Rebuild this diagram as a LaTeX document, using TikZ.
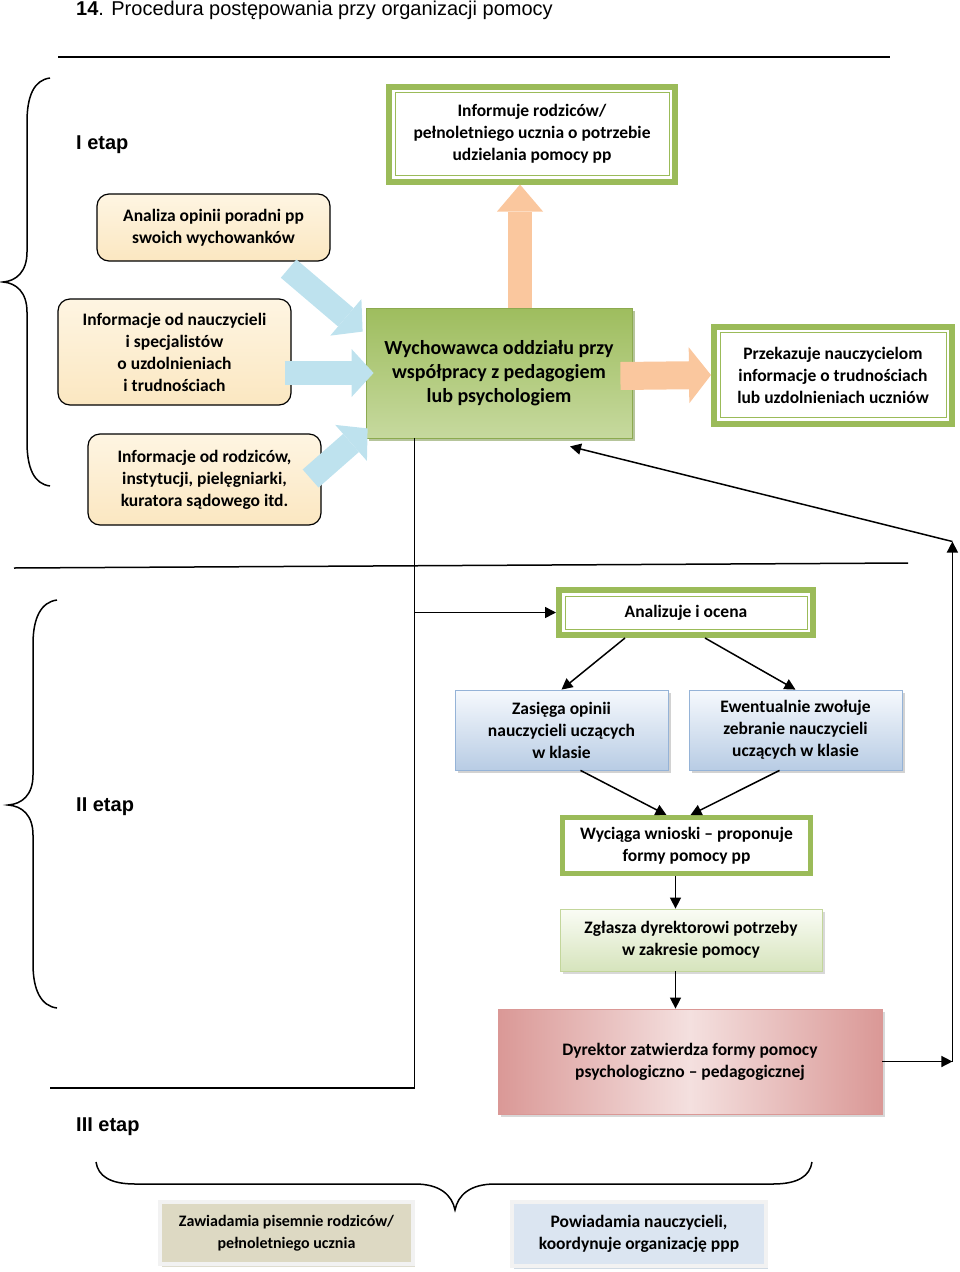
\documentclass[tikz,border=0pt]{standalone}
\usepackage{fontspec}
\setmainfont{Carlito}
\newfontfamily\arialfont{Liberation Sans}
\usetikzlibrary{arrows.meta,calc,shadows}

\definecolor{framegreen}{RGB}{155,187,89}
\definecolor{creamtop}{RGB}{254,245,226}
\definecolor{creambot}{RGB}{251,231,193}
\definecolor{wychtop}{RGB}{158,189,94}
\definecolor{wychbot}{RGB}{198,217,158}
\definecolor{wychline}{RGB}{140,170,80}
\definecolor{wychshadow}{RGB}{110,140,55}
\definecolor{bluetop}{RGB}{246,249,253}
\definecolor{bluebot}{RGB}{184,204,228}
\definecolor{blueline}{RGB}{149,179,215}
\definecolor{lgreentop}{RGB}{250,252,245}
\definecolor{lgreenbot}{RGB}{214,228,188}
\definecolor{lgreenline}{RGB}{195,214,155}
\definecolor{pinkdark}{RGB}{218,152,150}
\definecolor{pinklight}{RGB}{244,224,223}
\definecolor{tanfill}{RGB}{221,217,195}
\definecolor{tanshadow}{RGB}{190,186,160}
\definecolor{skyfill}{RGB}{219,229,241}
\definecolor{skyshadow}{RGB}{160,180,200}
\definecolor{arrowblue}{RGB}{190,226,238}
\definecolor{arroworange}{RGB}{250,199,158}

\begin{document}
\begin{tikzpicture}[x=1pt,y=-1pt,
    box/.style={inner sep=0pt, align=center, font=\bfseries\fontsize{17.5}{22}\selectfont},
    cream/.style={box, draw=black, line width=1.2pt, rounded corners=12pt,
        top color=creamtop, bottom color=creambot},
    dframe/.style={box, draw=framegreen, line width=6pt, fill=white},
    gframe/.style={box, draw=framegreen, line width=5pt, fill=white},
    wychbox/.style={box, draw=wychline, line width=0.8pt, top color=wychtop, bottom color=wychbot,
        font=\bfseries\fontsize{20}{24}\selectfont,
        drop shadow={shadow xshift=3pt, shadow yshift=-3pt, fill=wychshadow}},
    bluebox/.style={box, draw=blueline, line width=0.8pt, top color=bluetop, bottom color=bluebot,
        drop shadow={shadow xshift=3pt, shadow yshift=-3pt, fill=black!35}},
    lgreenbox/.style={box, draw=lgreenline, line width=0.8pt, top color=lgreentop, bottom color=lgreenbot,
        drop shadow={shadow xshift=3pt, shadow yshift=-3pt, fill=black!30}},
    pinkbox/.style={box, draw=pinkdark, line width=0.8pt, left color=pinkdark, right color=pinkdark,
        middle color=pinklight,
        drop shadow={shadow xshift=3pt, shadow yshift=-3pt, fill=black!30}},
    tanbox/.style={box, draw=black!5, line width=4pt, fill=tanfill, font=\bfseries\fontsize{16}{21.5}\selectfont,
        drop shadow={shadow xshift=2pt, shadow yshift=-3pt, fill=tanshadow}},
    skybox/.style={box, draw=black!5, line width=4pt, fill=skyfill,
        drop shadow={shadow xshift=2pt, shadow yshift=-3pt, fill=skyshadow}},
    etap/.style={anchor=west, inner sep=0pt, font=\arialfont\bfseries\fontsize{20}{24}\selectfont},
    plain/.style={line width=1.5pt},
    link/.style={line width=1.5pt, -{Triangle[length=11pt,width=11pt]}},
    fatblue/.style={line width=24pt, draw=arrowblue, -{Triangle[length=22pt,width=48pt,line width=0pt]}},
    fatorange/.style={line width=28pt, draw=arroworange, -{Triangle[length=22pt,width=56pt,line width=0pt]}}]

    \useasboundingbox (0,0) rectangle (960,1272);

    % title and stages
    \node[anchor=base west, inner sep=0pt, font=\arialfont\fontsize{20}{24}\selectfont] (title) at (76,15)
        {\textbf{14}. Procedura postępowania przy organizacji pomocy};
    \node[etap] (etap1) at (76,145) {I etap};
    \node[etap] (etap2) at (76,807) {II etap};
    \node[etap] (etap3) at (76,1127) {III etap};

    \draw[plain] (58,57) -- (890,57);
    \draw[plain] (14,568) -- (908,563);

    % braces
    \draw[plain] (50,78) .. controls (34,80) and (27,96) .. (27,122) -- (27,252)
        .. controls (27,272) and (16,281) .. (3,282) .. controls (16,283) and (27,292) .. (27,312)
        -- (27,442) .. controls (27,468) and (34,484) .. (50,486);
    \draw[plain] (57,600) .. controls (41,602) and (33,618) .. (33,644) -- (33,775)
        .. controls (33,795) and (22,804) .. (8,805) .. controls (22,806) and (33,815) .. (33,835)
        -- (33,964) .. controls (33,990) and (41,1006) .. (57,1008);
    \draw[plain] (96,1162) .. controls (98,1176) and (110,1184) .. (135,1184) -- (415,1184)
        .. controls (440,1184) and (452,1195) .. (455,1210) .. controls (458,1195) and (470,1184) .. (495,1184)
        -- (773,1184) .. controls (798,1184) and (810,1176) .. (812,1162);

    % stage I
    \node[dframe, minimum width=286pt, minimum height=95pt] (inform) at (532,134)
        {Informuje rodziców/\\pełnoletniego ucznia o potrzebie\\udzielania pomocy pp};
    \node[cream, minimum width=233pt, minimum height=67pt] (analiza) at (213.5,227.5)
        {Analiza opinii poradni pp\\swoich wychowanków};
    \node[cream, minimum width=233pt, minimum height=106pt] (infonau) at (174.5,352)
        {Informacje od nauczycieli\\i specjalistów\\o uzdolnieniach\\i trudnościach};
    \node[cream, minimum width=233pt, minimum height=91pt] (inforodz) at (204.5,479.5)
        {Informacje od rodziców,\\instytucji, pielęgniarki,\\kuratora sądowego itd.};
    \node[wychbox, minimum width=266pt, minimum height=130pt] (wych) at (499,373)
        {Wychowawca oddziału przy\\współpracy z pedagogiem\\lub psychologiem};
    \node[dframe, minimum width=238pt, minimum height=97pt] (przek) at (833,375)
        {Przekazuje nauczycielom\\informacje o trudnościach\\lub uzdolnieniach uczniów};

    % stage II
    \node[dframe, minimum width=254pt, minimum height=45pt] (anal) at (686,612.5) {Analizuje i ocena};
    \node[bluebox, minimum width=213pt, minimum height=80pt] (zasiega) at (561.5,730)
        {Zasięga opinii\\nauczycieli uczących\\w klasie};
    \node[bluebox, minimum width=213pt, minimum height=80pt] (ewent) at (795.5,730)
        {Ewentualnie zwołuje\\zebranie nauczycieli\\uczących w klasie};
    \node[gframe, minimum width=248pt, minimum height=56pt] (wyciaga) at (686.5,845.5)
        {Wyciąga wnioski -- proponuje\\formy pomocy pp};
    \node[lgreenbox, minimum width=262pt, minimum height=62pt] (zglasza) at (691,940)
        {Zgłasza dyrektorowi potrzeby\\w zakresie pomocy};
    \node[pinkbox, minimum width=384pt, minimum height=105pt] (dyrektor) at (690,1061.5)
        {Dyrektor zatwierdza formy pomocy\\psychologiczno -- pedagogicznej};

    % stage III
    \node[tanbox, minimum width=253pt, minimum height=62pt] (zawiad) at (286.5,1233)
        {Zawiadamia pisemnie rodziców/\\pełnoletniego ucznia};
    \node[skybox, minimum width=254pt, minimum height=64pt] (powiad) at (639,1234)
        {Powiadamia nauczycieli,\\koordynuje organizację ppp};

    % inner lines of the framed boxes
    \foreach \n in {inform,przek,anal}
        \draw[framegreen, line width=1pt] ($(\n.south west)+(9,-9)$) rectangle ($(\n.north east)+(-9,9)$);

    % block arrows
    \draw[fatblue] ($(analiza.south east)+(-42,7)$) -- ($(wych.north west)+(-3,24)$);
    \draw[fatblue] ($(infonau.east)+(-7,21)$) -- ($(wych.west)+(8,0)$);
    \draw[fatblue] ($(inforodz.east)+(-11,-1)$) -- ($(wych.south west)+(2,-10)$);
    \draw[fatorange, line width=24pt, -{Triangle[length=27pt,width=46pt,line width=0pt]}]
        ($(wych.north)+(21,0)$) -- ($(inform.south)+(-12,0)$);
    \draw[fatorange] ($(wych.east)+(-12,3)$) -- (przek.west);

    % connectors
    \coordinate (wl) at ($(wych.south west)+(49,0)$);
    \coordinate (sepc) at (50,1088);
    \draw[plain] (wl) |- (sepc);
    \draw[link] (wl |- anal.west) -- (anal.west);
    \draw[link] ($(anal.south)+(-61,0)$) -- (zasiega.north);
    \draw[link] ($(anal.south)+(19,0)$) -- (ewent.north);
    \draw[link] ($(zasiega.south)+(19,0)$) -- ($(wyciaga.north)+(-20,0)$);
    \draw[link] ($(ewent.south)+(-16,0)$) -- ($(wyciaga.north)+(4,0)$);
    \coordinate (w1) at ($(wyciaga.south)+(-11,0)$);
    \draw[link] (w1) -- (w1 |- zglasza.north);
    \draw[link] (w1 |- zglasza.south) -- (w1 |- dyrektor.north);
    \coordinate (loopb) at ($(dyrektor.east)+(70,0)$);
    \coordinate (loopt) at ($(loopb)+(0,-520)$);
    \draw[link] (dyrektor.east) -- (loopb);
    \draw[link] (loopb) -- (loopt);
    \draw[link] (loopt) -- ($(wych.south)+(71,8)$);
\end{tikzpicture}
\end{document}
